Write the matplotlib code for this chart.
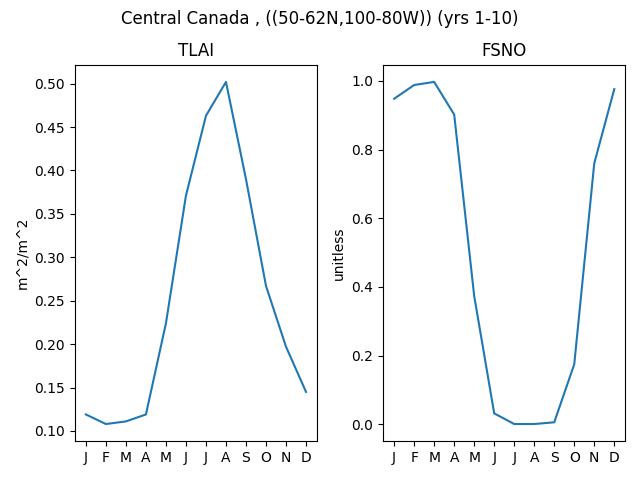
import matplotlib
matplotlib.use('Agg')
import matplotlib.pyplot as plt

months = ['J', 'F', 'M', 'A', 'M', 'J', 'J', 'A', 'S', 'O', 'N', 'D']
tlai = [0.119, 0.108, 0.111, 0.119, 0.224, 0.371, 0.463, 0.502, 0.390, 0.267, 0.197, 0.145]
fsno = [0.948, 0.988, 0.997, 0.902, 0.374, 0.032, 0.001, 0.001, 0.006, 0.175, 0.760, 0.976]


def main():
    fig, (ax1, ax2) = plt.subplots(1, 2, figsize=(6.4, 4.8))
    x = list(range(len(months)))

    ax1.plot(x, tlai)
    ax1.set_title('TLAI')
    ax1.set_ylabel('m^2/m^2')
    ax1.set_xticks(x)
    ax1.set_xticklabels(months)

    ax2.plot(x, fsno)
    ax2.set_title('FSNO')
    ax2.set_ylabel('unitless')
    ax2.set_xticks(x)
    ax2.set_xticklabels(months)

    fig.suptitle('Central Canada , ((50-62N,100-80W)) (yrs 1-10)')
    fig.subplots_adjust(left=0.117, right=0.977, top=0.865, bottom=0.081, wspace=0.273)
    fig.savefig('out.png', dpi=100)


if __name__ == '__main__':
    main()
